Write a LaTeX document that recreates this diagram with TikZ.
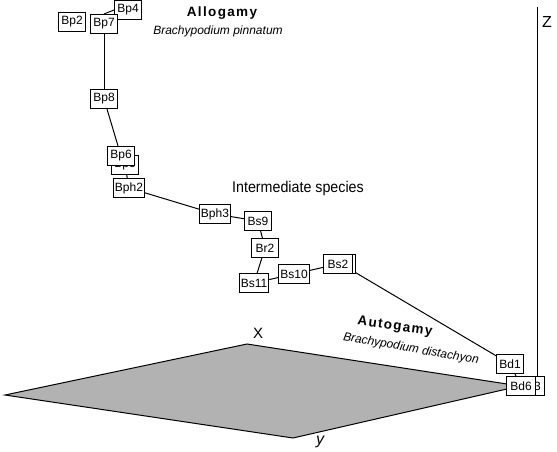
\documentclass[tikz,border=0pt]{standalone}
\usepackage{fontspec}
\setmainfont{Liberation Sans}
\usepackage{tikz}

\begin{document}
\begin{tikzpicture}
[x=1pt,y=-1pt,line width=1pt]
\tikzset{box/.style={draw,fill=white,inner sep=1.5pt,minimum width=27pt,minimum height=19pt,font=\fontsize{12}{13}\selectfont}}
\tikzset{lbl/.style={inner sep=0pt,font=\fontsize{12}{14}\selectfont}}
\useasboundingbox (0,0) rectangle (557,452);

% plane
\coordinate (pl) at (5,395);
\coordinate (px) at (247,344);
\coordinate (pr) at (520,386);
\coordinate (py) at (293,438);
\draw [fill=black!30] (pl) -- (px) -- (pr) -- (py) -- cycle;
\node [lbl,font=\fontsize{15}{16}\selectfont] (xl) at (258,333) {X};
\node [lbl,font=\fontsize{16}{16}\selectfont\itshape] (yl) at (320,442) {y};

\node [box] (Bp2) at (72,22) {Bp2};
\node [box] (Bp4) at (128,10) {Bp4};
\node [box] (Bp7) at (104,24) {Bp7};
\node [box] (Bp8) at (104,99) {Bp8};
\node [box] (Bp5) at (125,165) {Bp5};
\node [box] (Bp6) at (121,156) {Bp6};
\node [box] (Bph2) at (129,188) {Bph2};
\node [box] (Bph3) at (215,214) {Bph3};
\node [box] (Bs9) at (258,221) {Bs9};
\node [box] (Br2) at (265,248) {Br2};
\node [box] (Bs11) at (254,283) {Bs11};
\node [box] (Bs10) at (294,274) {Bs10};
\node [box,minimum width=29pt] (Bsb) at (341,264) {};
\node [box,minimum width=29pt] (Bs2) at (338,264) {Bs2};
\node [box] (Bd1) at (510,364) {Bd1};
\node [box,minimum width=28pt] (Bd3) at (530,386) {Bd3};
\node [box,minimum width=29pt] (Bd6) at (521,386) {Bd6};

\coordinate (ztop) at (537,7);
\node [lbl,font=\fontsize{16}{16}\selectfont] (zl) at (547,22) {Z};

\foreach \from/\to in {Bp7.north/Bp4.west,Bp7/Bp8,Bp8/Bp6,Bp5/Bph2,Bph2/Bph3,Bph3/Bs9,Bs9/Br2,Br2/Bs11,Bs11/Bs10,Bs10/Bs2,Bsb/Bd1,Bd1/Bd6}
	\draw (\from) -- (\to);
\draw (ztop |- Bd3.north) -- (ztop);

\node [lbl,font=\fontsize{13.5}{14}\selectfont\bfseries\addfontfeature{LetterSpace=10}] (allo) at (222,13) {Allogamy};
\node [lbl,font=\fontsize{12}{14}\selectfont\itshape] (pinn) at (218,31) {Brachypodium pinnatum};
\node [lbl,font=\fontsize{15.5}{16}\selectfont,xscale=0.92] (inter) at (298,188) {Intermediate species};
\node [lbl,rotate=-8,font=\fontsize{13.5}{14}\selectfont\bfseries\addfontfeature{LetterSpace=10}] (auto) at (395,327) {Autogamy};
\node [lbl,rotate=-10,font=\fontsize{12}{14}\selectfont\itshape] (dist) at (411,349) {Brachypodium distachyon};

\end{tikzpicture}
\end{document}
